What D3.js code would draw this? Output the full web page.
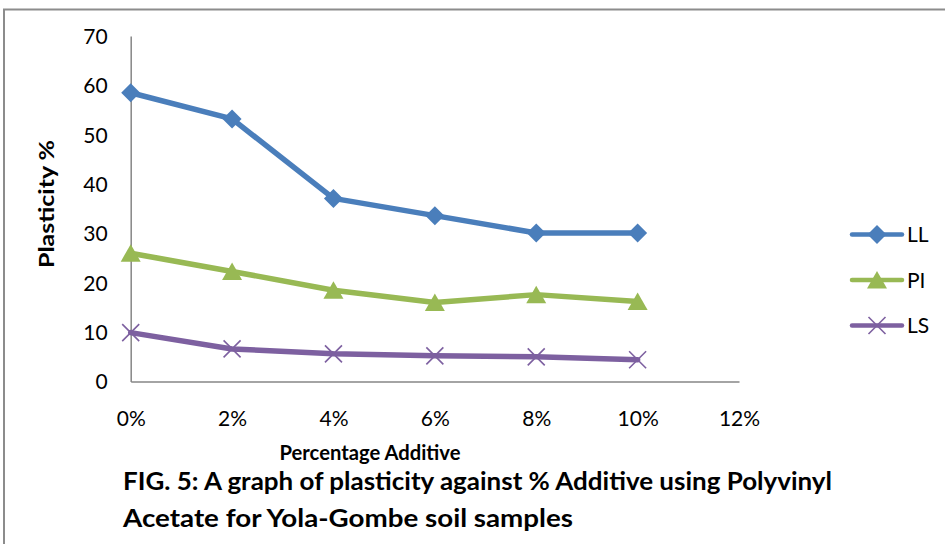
<!DOCTYPE html>
<html>
<head>
<meta charset="utf-8">
<script src="https://cdn.jsdelivr.net/npm/d3@7"></script>
<style>
  html, body { margin: 0; padding: 0; background: #fff; }
  svg { display: block; }
  text { font-family: Lato, "Open Sans", "Liberation Sans", sans-serif; fill: #000; }
</style>
</head>
<body>
<svg id="chart" width="945" height="544"></svg>
<script>
// Percentage of Polyvinyl Acetate additive
const additive = [0, 2, 4, 6, 8, 10];
// Liquid limit, plasticity index and linear shrinkage (%)
const seriesNames = ["LL", "PI", "LS"];
const llValues = [58.5, 53.2, 37.1, 33.6, 30.1, 30.1];
const piValues = [26.0, 22.3, 18.5, 16.0, 17.6, 16.2];
const lsValues = [9.9, 6.6, 5.6, 5.2, 5.0, 4.4];
const yTickValues = [0, 10, 20, 30, 40, 50, 60, 70];
const xTickValues = [0, 2, 4, 6, 8, 10, 12];
const xTickLabels = ["0%", "2%", "4%", "6%", "8%", "10%", "12%"];

const colors = { LL: "#4a7ebb", PI: "#98b954", LS: "#7d60a0" };
const series = [
  { name: "LL", values: llValues, marker: "diamond" },
  { name: "PI", values: piValues, marker: "triangle" },
  { name: "LS", values: lsValues, marker: "cross" }
];

const svg = d3.select("#chart");

// outer frame
svg.append("path")
  .attr("d", "M4,548 L4,9.5 L950,9.5")
  .attr("fill", "none")
  .attr("stroke", "#8c8c8c")
  .attr("stroke-width", 2);

const x = d3.scaleLinear().domain([0, 12]).range([130.7, 739]);
const y = d3.scaleLinear().domain([0, 70]).range([381.5, 36]);

// y axis
const yAxis = d3.axisLeft(y).tickValues(yTickValues).tickSize(0).tickPadding(23)
  .tickFormat(d3.format("d"));
const gy = svg.append("g").attr("transform", `translate(${x(0)},0)`).call(yAxis);
gy.select(".domain").attr("stroke", "#868686").attr("stroke-width", 1.5);
gy.selectAll("text").style("font-size", "21px").attr("dy", "0.35em");

// x axis
const xAxis = d3.axisBottom(x).tickValues(xTickValues).tickSize(0).tickPadding(30)
  .tickFormat((d, i) => xTickLabels[i]);
const gx = svg.append("g").attr("transform", `translate(0,${y(0)})`).call(xAxis);
gx.select(".domain").attr("stroke", "#868686").attr("stroke-width", 1.5);
gx.selectAll("text").style("font-size", "21px");

// axis titles
svg.append("text")
  .attr("transform", `translate(54,204) rotate(-90)`)
  .attr("text-anchor", "middle")
  .attr("textLength", 128).attr("lengthAdjust", "spacingAndGlyphs")
  .style("font-size", "21px").style("font-weight", "bold")
  .text("Plasticity %");

svg.append("text")
  .attr("x", 370).attr("y", 460)
  .attr("text-anchor", "middle")
  .attr("textLength", 181).attr("lengthAdjust", "spacingAndGlyphs")
  .style("font-size", "21px").style("font-weight", "bold")
  .text("Percentage Additive");

// figure caption
svg.append("text")
  .attr("x", 123).attr("y", 490)
  .attr("textLength", 709).attr("lengthAdjust", "spacingAndGlyphs")
  .style("font-size", "24px").style("font-weight", "bold")
  .text("FIG. 5: A graph of plasticity against % Additive using Polyvinyl");
svg.append("text")
  .attr("x", 123).attr("y", 527)
  .attr("textLength", 450).attr("lengthAdjust", "spacingAndGlyphs")
  .style("font-size", "24px").style("font-weight", "bold")
  .text("Acetate for Yola-Gombe soil samples");

// marker drawing
function drawMarker(g, type, color) {
  if (type === "diamond") {
    g.append("path").attr("d", "M0,-9.5 L9.5,0 L0,9.5 L-9.5,0 Z").attr("fill", color);
  } else if (type === "triangle") {
    g.append("path").attr("d", "M0,-9 L10,8.5 L-10,8.5 Z").attr("fill", color);
  } else {
    g.append("path").attr("d", "M-8.5,-8.5 L8.5,8.5 M-8.5,8.5 L8.5,-8.5")
      .attr("stroke", color).attr("stroke-width", 1.6).attr("fill", "none");
  }
}

const line = d3.line().x((d, i) => x(additive[i])).y(d => y(d));

series.forEach(s => {
  const g = svg.append("g");
  g.append("path")
    .datum(s.values)
    .attr("d", line)
    .attr("fill", "none")
    .attr("stroke", colors[s.name])
    .attr("stroke-width", 5.5)
    .attr("stroke-linejoin", "round")
    .attr("stroke-linecap", "round");
  s.values.forEach((v, i) => {
    const m = g.append("g").attr("transform", `translate(${x(additive[i])},${y(v)})`);
    drawMarker(m, s.marker, colors[s.name]);
  });
});

// legend
const legendY = d3.scalePoint().domain(seriesNames).range([234.5, 325.5]);
series.forEach(s => {
  const ly = legendY(s.name);
  const g = svg.append("g");
  g.append("line")
    .attr("x1", 852).attr("x2", 902).attr("y1", ly).attr("y2", ly)
    .attr("stroke", colors[s.name]).attr("stroke-width", 4.5).attr("stroke-linecap", "round");
  const m = g.append("g").attr("transform", `translate(877,${ly})`);
  drawMarker(m, s.marker, colors[s.name]);
  g.append("text")
    .attr("x", 907).attr("y", ly).attr("dy", "0.36em")
    .style("font-size", "21px")
    .text(s.name);
});
</script>
</body>
</html>
